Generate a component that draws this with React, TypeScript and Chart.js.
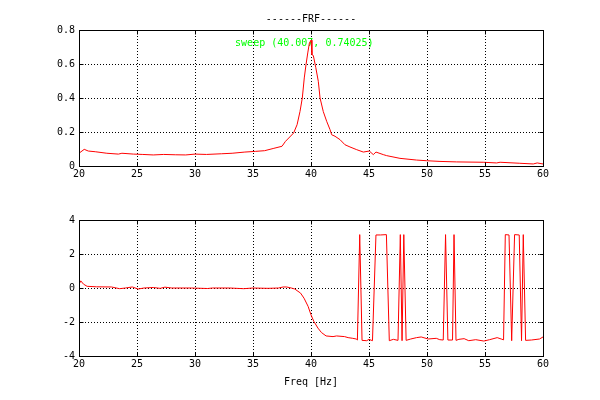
import React, { useEffect, useRef } from 'react';
import { Chart, registerables } from 'chart.js';

Chart.register(...registerables);

// magnitude of the FRF (top plot)
const magFreq = [
  20.0, 20.45, 20.8, 21.4, 22.4, 23.4, 23.7, 24.7, 25.5, 26.4, 27.3, 28.3, 29.2, 30.0,
  31.0, 32.3, 33.2, 34.3, 35.2, 36.0, 36.8, 37.5, 37.8, 38.5, 38.8, 39.05, 39.25, 39.42,
  39.57, 39.72, 39.86, 40.007, 40.08, 40.2, 40.41, 40.63, 40.78, 41.06, 41.35, 41.64,
  41.78, 42.07, 42.5, 42.93, 43.36, 43.94, 44.51, 45.03, 45.37, 45.6, 46.23, 46.52,
  47.67, 49.1, 49.97, 51.12, 52.56, 54.85, 56.0, 56.3, 58.0, 59.16, 59.5, 60.0,
];
const magValue = [
  0.075, 0.098, 0.088, 0.084, 0.075, 0.07, 0.075, 0.07, 0.068, 0.065, 0.068, 0.066, 0.065, 0.07,
  0.068, 0.072, 0.075, 0.082, 0.086, 0.09, 0.104, 0.116, 0.145, 0.194, 0.243, 0.32, 0.4, 0.518,
  0.596, 0.665, 0.723, 0.74025, 0.655, 0.65, 0.58, 0.498, 0.4, 0.32, 0.263, 0.214,
  0.184, 0.175, 0.155, 0.125, 0.112, 0.096, 0.082, 0.088, 0.067, 0.082, 0.067, 0.061,
  0.045, 0.035, 0.031, 0.027, 0.024, 0.022, 0.018, 0.022, 0.016, 0.012, 0.018, 0.012,
];

// phase of the FRF (bottom plot)
const phaseFreq = [
  20.0, 20.15, 20.4, 20.7, 21.5, 22.8, 23.5, 24.0, 24.6, 25.1, 25.6, 26.4, 27.0, 27.4,
  28.0, 29.7, 31.1, 31.5, 33.0, 34.2, 35.0, 36.3, 37.2, 37.6, 37.9, 38.3, 38.6, 39.1,
  39.4, 39.75, 40.0, 40.25, 40.6, 40.9, 41.3, 41.9, 42.2, 42.9, 43.2, 43.6, 43.9, 44.0,
  44.2, 44.4, 44.8, 45.0, 45.3, 45.6, 46.0, 46.5, 46.75, 47.1, 47.5, 47.7, 47.85, 48.0,
  48.2, 48.6, 49.1, 49.5, 50.1, 50.8, 51.1, 51.4, 51.6, 51.8, 52.2, 52.33, 52.5, 52.75,
  53.2, 53.6, 54.2, 54.9, 55.4, 56.05, 56.4, 56.6, 56.75, 57.07, 57.3, 57.55, 57.95,
  58.15, 58.3, 58.5, 59.0, 59.7, 60.0,
];
const phaseValue = [
  0.2, 0.42, 0.22, 0.1, 0.07, 0.06, -0.04, 0.0, 0.06, -0.06, 0.0, 0.03, -0.02, 0.05,
  0.0, 0.0, -0.03, 0.0, 0.0, -0.04, 0.0, -0.02, 0.0, 0.06, 0.06, 0.0, -0.06, -0.3,
  -0.6, -1.08, -1.58, -1.97, -2.36, -2.62, -2.82, -2.86, -2.82, -2.86, -2.92, -2.96, -3.0, -3.06,
  3.14, -3.08, -3.1, -3.02, -3.1, 3.12, 3.12, 3.14, -3.1, -3.02, -3.08, 3.14, -3.1, 3.14,
  -3.08, -3.0, -2.92, -2.88, -3.0, -2.96, -3.04, -3.06, 3.14, -3.06, -3.06, 3.14, -3.08, -3.02,
  -2.98, -3.1, -3.04, -3.12, -3.04, -2.92, -3.0, -3.05, 3.14, 3.12, -3.1, 3.14, 3.12,
  -3.1, 3.14, -3.08, -3.06, -3.0, -2.88,
];

const freqTicks = { min: 20, max: 60, step: 5 };
const magTicks = { min: 0, max: 0.8, step: 0.2 };
const phaseTicks = { min: -4, max: 4, step: 2 };

const plotTitle = '------FRF------';
const xLabel = 'Freq [Hz]';
const cursorFreq = 40.007;
const cursorMag = 0.74025;

const FONT = '"DejaVu Sans Mono", monospace';
Chart.defaults.font.family = FONT;
Chart.defaults.font.size = 10;
Chart.defaults.color = '#000';

const al = (v: number) => Math.round(v - 0.5) + 0.5;

// MATLAB-like axes box, inward ticks, title and data cursor text
const framePlugin = {
  id: 'frame',
  beforeDatasetsDraw(chart: any, _args: any, opts: any) {
    const { ctx, chartArea: a, scales } = chart;
    ctx.save();
    ctx.font = `10px ${FONT}`;
    ctx.textBaseline = 'middle';
    if (opts.title) {
      ctx.fillStyle = '#000';
      ctx.textAlign = 'center';
      ctx.fillText(opts.title, (a.left + a.right) / 2, a.top - 11);
    }
    if (opts.cursor) {
      const px = scales.x.getPixelForValue(opts.cursor.x);
      const py = scales.y.getPixelForValue(opts.cursor.y);
      ctx.fillStyle = '#00ff00';
      ctx.textAlign = 'left';
      ctx.fillText(opts.cursor.text, px - 76, py + 3);
    }
    ctx.restore();
  },
  afterDraw(chart: any) {
    const { ctx, chartArea: a, scales } = chart;
    const L = al(a.left), R = al(a.right), T = al(a.top), B = al(a.bottom);
    ctx.save();
    ctx.strokeStyle = '#000';
    ctx.lineWidth = 1;
    ctx.setLineDash([]);
    ctx.strokeRect(L, T, R - L, B - T);
    ctx.beginPath();
    scales.x.ticks.forEach((t: any) => {
      const px = al(scales.x.getPixelForValue(t.value));
      ctx.moveTo(px, B); ctx.lineTo(px, B - 4);
      ctx.moveTo(px, T); ctx.lineTo(px, T + 4);
    });
    scales.y.ticks.forEach((t: any) => {
      const py = al(scales.y.getPixelForValue(t.value));
      ctx.moveTo(L, py); ctx.lineTo(L + 4, py);
      ctx.moveTo(R, py); ctx.lineTo(R - 4, py);
    });
    ctx.stroke();
    ctx.restore();
  },
};

const makeConfig = (
  xs: number[], ys: number[], yt: { min: number; max: number; step: number },
  padTop: number, axisHeight: number, extra: any, withXTitle: boolean,
): any => ({
  type: 'line',
  data: {
    datasets: [{
      data: xs.map((x, i) => ({ x, y: ys[i] })),
      borderColor: '#ff0000',
      borderWidth: 1,
      pointRadius: 0,
      tension: 0,
    }],
  },
  options: {
    responsive: false,
    animation: false,
    layout: { padding: { top: padTop, right: 57, left: 0, bottom: 0 } },
    plugins: { legend: { display: false }, tooltip: { enabled: false }, frame: extra },
    scales: {
      x: {
        type: 'linear',
        min: freqTicks.min,
        max: freqTicks.max,
        ticks: { stepSize: freqTicks.step, padding: 2, maxRotation: 0 },
        grid: { color: '#000', drawTicks: false },
        border: { display: false, dash: [1, 2] },
        title: { display: withXTitle, text: xLabel, padding: { top: 0, bottom: 12 } },
        afterFit: (s: any) => { s.height = axisHeight; },
      },
      y: {
        min: yt.min,
        max: yt.max,
        ticks: { stepSize: yt.step, padding: 4 },
        grid: { color: '#000', drawTicks: false },
        border: { display: false, dash: [1, 2] },
        afterFit: (s: any) => { s.width = 79; },
      },
    },
  },
  plugins: [framePlugin],
});

const Plot = ({ config }: { config: any }) => {
  const ref = useRef<HTMLCanvasElement>(null);
  useEffect(() => {
    if (!ref.current) return;
    const chart = new Chart(ref.current, config);
    return () => chart.destroy();
  }, [config]);
  return <canvas ref={ref} width={600} height={200} style={{ display: 'block', width: 600, height: 200 }} />;
};

const topConfig = makeConfig(magFreq, magValue, magTicks, 30, 34, {
  title: plotTitle,
  cursor: { x: cursorFreq, y: cursorMag, text: `sweep (${cursorFreq.toFixed(3)}, ${cursorMag})` },
}, false);
const bottomConfig = makeConfig(phaseFreq, phaseValue, phaseTicks, 20, 44, {}, true);

export default function App() {
  return (
    <div style={{ position: 'absolute', left: 0, top: 0, width: 600, height: 400, background: '#fff' }}>
      <Plot config={topConfig} />
      <Plot config={bottomConfig} />
    </div>
  );
}
